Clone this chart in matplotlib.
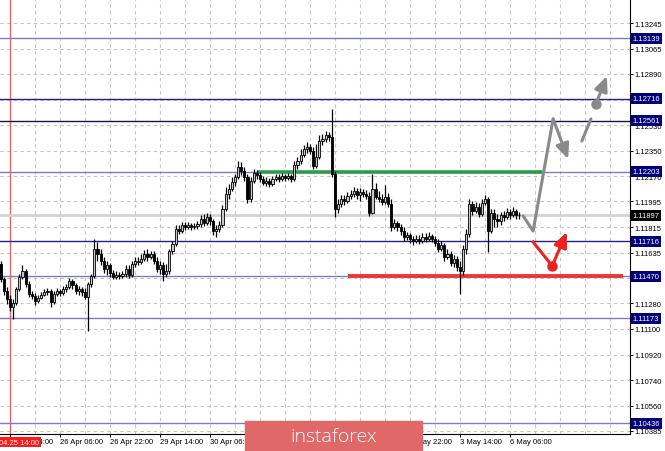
import numpy as np
import matplotlib.pyplot as plt
from matplotlib import transforms
from matplotlib.patches import Rectangle

plt.rcParams['font.family'] = ['Liberation Sans', 'DejaVu Sans']

# H1 candles, starting three bars before 2019.04.25 14:00
first_open = 1.11556
close = [1.11450, 1.11366, 1.11310, 1.11254, 1.11282, 1.11380, 1.11464, 1.11507, 1.11415, 1.11345,
         1.11331, 1.11296, 1.11317, 1.11338, 1.11359, 1.11366, 1.11289, 1.11345, 1.11366, 1.11352,
         1.11380, 1.11394, 1.11436, 1.11408, 1.11366, 1.11380, 1.11359, 1.11324, 1.11415, 1.11471,
         1.11661, 1.11626, 1.11577, 1.11521, 1.11549, 1.11492, 1.11464, 1.11478, 1.11471, 1.11486,
         1.11521, 1.11478, 1.11556, 1.11577, 1.11570, 1.11591, 1.11626, 1.11605, 1.11626, 1.11577,
         1.11521, 1.11549, 1.11486, 1.11507, 1.11647, 1.11696, 1.11801, 1.11787, 1.11830, 1.11815,
         1.11830, 1.11815, 1.11823, 1.11837, 1.11872, 1.11844, 1.11886, 1.11858, 1.11787, 1.11801,
         1.11830, 1.11942, 1.12047, 1.12082, 1.12131, 1.12166, 1.12237, 1.12209, 1.12166, 1.12012,
         1.12138, 1.12195, 1.12181, 1.12152, 1.12124, 1.12138, 1.12117, 1.12152, 1.12166, 1.12152,
         1.12174, 1.12159, 1.12174, 1.12152, 1.12251, 1.12279, 1.12321, 1.12363, 1.12377, 1.12349,
         1.12244, 1.12307, 1.12419, 1.12433, 1.12461, 1.12447, 1.12188, 1.11942, 1.11977, 1.12012,
         1.11998, 1.12033, 1.12047, 1.12068, 1.12040, 1.12061, 1.12047, 1.12033, 1.11914, 1.12082,
         1.12026, 1.12012, 1.11991, 1.12026, 1.11977, 1.11815, 1.11844, 1.11815, 1.11787, 1.11745,
         1.11759, 1.11731, 1.11717, 1.11731, 1.11717, 1.11745, 1.11731, 1.11752, 1.11731, 1.11703,
         1.11661, 1.11689, 1.11605, 1.11626, 1.11563, 1.11591, 1.11535, 1.11507, 1.11661, 1.11766,
         1.11977, 1.11928, 1.11956, 1.11907, 1.11984, 1.12012, 1.11787, 1.11914, 1.11872, 1.11858,
         1.11900, 1.11886, 1.11921, 1.11900, 1.11928, 1.11900, 1.11897]
high = [1.11577, 1.11464, 1.11394, 1.11338, 1.11310, 1.11394, 1.11486, 1.11549, 1.11521, 1.11436,
        1.11366, 1.11352, 1.11338, 1.11359, 1.11380, 1.11387, 1.11380, 1.11366, 1.11387, 1.11380,
        1.11401, 1.11415, 1.11457, 1.11450, 1.11422, 1.11401, 1.11394, 1.11387, 1.11429, 1.11486,
        1.11731, 1.11710, 1.11661, 1.11605, 1.11577, 1.11563, 1.11514, 1.11507, 1.11500, 1.11507,
        1.11549, 1.11549, 1.11577, 1.11605, 1.11605, 1.11626, 1.11654, 1.11661, 1.11647, 1.11647,
        1.11605, 1.11577, 1.11570, 1.11556, 1.11661, 1.11717, 1.11830, 1.11830, 1.11851, 1.11851,
        1.11851, 1.11844, 1.11844, 1.11858, 1.11900, 1.11907, 1.11914, 1.11907, 1.11872, 1.11830,
        1.11858, 1.11970, 1.12096, 1.12117, 1.12166, 1.12188, 1.12279, 1.12272, 1.12237, 1.12188,
        1.12166, 1.12223, 1.12216, 1.12202, 1.12174, 1.12166, 1.12159, 1.12174, 1.12188, 1.12188,
        1.12195, 1.12188, 1.12195, 1.12188, 1.12279, 1.12307, 1.12363, 1.12391, 1.12412, 1.12398,
        1.12377, 1.12398, 1.12461, 1.12468, 1.12489, 1.12482, 1.12644, 1.12209, 1.12012, 1.12040,
        1.12040, 1.12061, 1.12075, 1.12096, 1.12089, 1.12089, 1.12082, 1.12075, 1.12061, 1.12188,
        1.12124, 1.12068, 1.12047, 1.12110, 1.12054, 1.12012, 1.11872, 1.11858, 1.11837, 1.11815,
        1.11780, 1.11773, 1.11752, 1.11759, 1.11759, 1.11773, 1.11773, 1.11780, 1.11766, 1.11752,
        1.11731, 1.11717, 1.11703, 1.11661, 1.11647, 1.11619, 1.11612, 1.11577, 1.11689, 1.11801,
        1.12012, 1.11998, 1.11991, 1.11984, 1.12012, 1.12040, 1.12026, 1.11942, 1.11942, 1.11907,
        1.11921, 1.11928, 1.11949, 1.11942, 1.11956, 1.11942, 1.11921]
low = [1.11429, 1.11338, 1.11275, 1.11226, 1.11170, 1.11268, 1.11366, 1.11450, 1.11394, 1.11324,
       1.11310, 1.11268, 1.11282, 1.11310, 1.11331, 1.11338, 1.11254, 1.11275, 1.11331, 1.11331,
       1.11338, 1.11359, 1.11380, 1.11380, 1.11345, 1.11338, 1.11331, 1.11310, 1.11085, 1.11394,
       1.11457, 1.11577, 1.11549, 1.11492, 1.11478, 1.11464, 1.11450, 1.11450, 1.11450, 1.11457,
       1.11464, 1.11457, 1.11464, 1.11535, 1.11549, 1.11556, 1.11577, 1.11577, 1.11591, 1.11556,
       1.11500, 1.11486, 1.11436, 1.11464, 1.11486, 1.11626, 1.11682, 1.11766, 1.11773, 1.11794,
       1.11801, 1.11794, 1.11801, 1.11801, 1.11815, 1.11823, 1.11830, 1.11830, 1.11759, 1.11745,
       1.11780, 1.11815, 1.11928, 1.12012, 1.12068, 1.12103, 1.12152, 1.12181, 1.12138, 1.11984,
       1.11991, 1.12124, 1.12152, 1.12131, 1.12110, 1.12103, 1.12096, 1.12103, 1.12138, 1.12131,
       1.12138, 1.12138, 1.12145, 1.12131, 1.12138, 1.12223, 1.12258, 1.12307, 1.12335, 1.12328,
       1.12223, 1.12230, 1.12293, 1.12391, 1.12412, 1.12419, 1.12166, 1.11886, 1.11914, 1.11956,
       1.11970, 1.11984, 1.12012, 1.12026, 1.12012, 1.11998, 1.12026, 1.12012, 1.11893, 1.11907,
       1.12012, 1.11991, 1.11970, 1.11977, 1.11956, 1.11787, 1.11801, 1.11787, 1.11759, 1.11717,
       1.11724, 1.11703, 1.11689, 1.11703, 1.11696, 1.11703, 1.11710, 1.11717, 1.11710, 1.11682,
       1.11640, 1.11647, 1.11577, 1.11591, 1.11542, 1.11535, 1.11507, 1.11345, 1.11478, 1.11626,
       1.11745, 1.11900, 1.11914, 1.11886, 1.11893, 1.11970, 1.11640, 1.11773, 1.11815, 1.11815,
       1.11830, 1.11858, 1.11872, 1.11872, 1.11886, 1.11872, 1.11872]

levels = [1.13139, 1.12716, 1.12561, 1.12203, 1.11716, 1.11470, 1.11173, 1.10436]
level_colors = ['#7b7bc4', '#22227a', '#151550', '#7b7bc4', '#22228a', '#7b7bc4', '#7b7bc4', '#7b7bc4']
bid = 1.11897

price_ticks = [1.13245, 1.13065, 1.12890, 1.12710, 1.12530, 1.12350, 1.12170, 1.11995, 1.11815,
               1.11635, 1.11455, 1.11280, 1.11100, 1.10920, 1.10740, 1.10560, 1.10385]
# 1.12710 and 1.11455 sit fully under level boxes, so no label is shown for them
price_labels = ['1.13245', '1.13065', '1.12890', '', '1.12530', '1.12350', '1.12170', '1.11995',
                '1.11815', '1.11635', '', '1.11280', '1.11100', '1.10920', '1.10740', '1.10560',
                '1.10385']
# labels fully covered by the watermark are left blank
time_labels = ['25 Apr 14:00', '26 Apr 06:00', '26 Apr 22:00', '29 Apr 14:00', '30 Apr 06:00',
               '', '', '', '2 May 22:00', '3 May 14:00', '6 May 06:00']
time_label_bars = [3, 19, 35, 51, 67, 83, 99, 115, 131, 147, 163]
separator_bar = 3
separator_text = '2019.04.25 14:00'

# drawn levels and forecast
green_level, green_span = 1.12203, (82, 173.3)
red_level, red_span = 1.11470, (111.2, 199.2)
gray_x = [167.2, 170.4, 176.8]
gray_y = [1.11893, 1.11787, 1.12574]
gray_arrow1 = [(176.8, 1.12574), (181.6, 1.12293)]
gray_dash = [(186.0, 1.12419), (188.9, 1.12574)]
gray_dot = (190.5, 1.12679)
gray_arrow2 = [(190.5, 1.12679), (194.0, 1.12875)]
red_x = [170.4, 176.5]
red_y = [1.11710, 1.11542]
red_arrow = [(176.5, 1.11542), (181.2, 1.11780)]

close = np.array(close)
high = np.array(high)
low = np.array(low)
opens = np.r_[first_open, close[:-1]]
high = np.maximum(high, np.maximum(opens, close))
low = np.minimum(low, np.minimum(opens, close))
x = np.arange(len(close))

fig = plt.figure(figsize=(6.65, 4.52), dpi=100)
ax = fig.add_axes([0, 17 / 452, 630 / 665, 435 / 452])
ax.set_xlim(-0.19, 201.4)
ax.set_ylim(1.10362, 1.13416)

# grid
grid_kw = dict(color='#c4c4c4', lw=0.8, ls=(0, (3, 3)), zorder=0)
for p in price_ticks:
    ax.axhline(p, **grid_kw)
for g in np.arange(separator_bar + 8, 202, 8):
    ax.axvline(g, **grid_kw)
ax.axvline(separator_bar, color='#ff5a5a', lw=1, zorder=1)

# levels
for lv, col in zip(levels, level_colors):
    ax.axhline(lv, color=col, lw=1, zorder=1)
ax.axhline(bid, color='#d4d4d4', lw=2.0, zorder=1)
ax.hlines(green_level, *green_span, color='#2e9a4a', lw=2.6, zorder=2)
ax.hlines(red_level, *red_span, color='#ee3535', lw=2.8, zorder=2)

# candles
up = close >= opens
ax.vlines(x, low, high, color='black', lw=0.9, zorder=3)
ax.bar(x[up], (close - opens)[up], bottom=opens[up], width=0.7, color='#c8c8c8',
       edgecolor='black', lw=0.6, zorder=4)
ax.bar(x[~up], (close - opens)[~up], bottom=opens[~up], width=0.7, color='black',
       edgecolor='black', lw=0.6, zorder=4)

# forecast
gray = '#8a8a8a'
head = '-|>,head_length=0.9,head_width=0.4'
ax.plot(gray_x, gray_y, color=gray, lw=2.2, solid_capstyle='round', zorder=5)
ax.plot(*zip(*gray_dash), color=gray, lw=2.2, solid_capstyle='round', zorder=5)
ax.plot(*gray_dot, 'o', color=gray, ms=6.5, zorder=5)
for a in (gray_arrow1, gray_arrow2):
    ax.annotate('', xy=a[1], xytext=a[0],
                arrowprops=dict(arrowstyle=head, color=gray, lw=2.2, shrinkA=0, shrinkB=0),
                zorder=5)
ax.plot(red_x, red_y, color='#ee2020', lw=2.2, zorder=5)
ax.plot(*red_arrow[0], 'o', color='#ee2020', ms=6.5, zorder=5)
ax.annotate('', xy=red_arrow[1], xytext=red_arrow[0],
            arrowprops=dict(arrowstyle=head, color='#ee2020', lw=2.2, shrinkA=0, shrinkB=0),
            zorder=5)

# axes
for s in ('top', 'left'):
    ax.spines[s].set_visible(False)
for s in ('right', 'bottom'):
    ax.spines[s].set_color('black')
    ax.spines[s].set_linewidth(0.8)
ax.yaxis.tick_right()
ax.set_yticks(price_ticks)
ax.set_yticklabels(price_labels)
ax.set_xticks(time_label_bars)
ax.set_xticklabels(time_labels)
plt.setp(ax.get_xticklabels(), ha='left')
ax.tick_params(axis='both', length=2, width=0.7, labelsize=5.5, pad=1, colors='black')

ytrans = transforms.blended_transform_factory(ax.transAxes, ax.transData)
for lv in levels:
    ax.text(1.004, lv, '%.5f' % lv, transform=ytrans, ha='left', va='center', fontsize=5.5,
            color='white', clip_on=False, zorder=10,
            bbox=dict(boxstyle='square,pad=0.25', fc='#00007a', ec='none'))
ax.text(1.004, bid, '%.5f' % bid, transform=ytrans, ha='left', va='center', fontsize=5.5,
        color='white', clip_on=False, zorder=10,
        bbox=dict(boxstyle='square,pad=0.25', fc='black', ec='none'))

xtrans = transforms.blended_transform_factory(ax.transData, ax.transAxes)
ax.text(separator_bar, -0.0185, separator_text, transform=xtrans, ha='center', va='center',
        fontsize=5.5, color='white', clip_on=False, zorder=10,
        bbox=dict(boxstyle='square,pad=0.2', fc='#ff1a1a', ec='none'))

# watermark
fig.add_artist(Rectangle((245 / 665, 0), 177 / 665, 30 / 452, transform=fig.transFigure,
                         color='#e06868', zorder=20))
fig.text(334 / 665, 15 / 452, 'instaforex', ha='center', va='center', color='white',
         fontsize=14, family=['Open Sans', 'DejaVu Sans'], weight='light', zorder=21)

fig.savefig('out.png', dpi=100)
